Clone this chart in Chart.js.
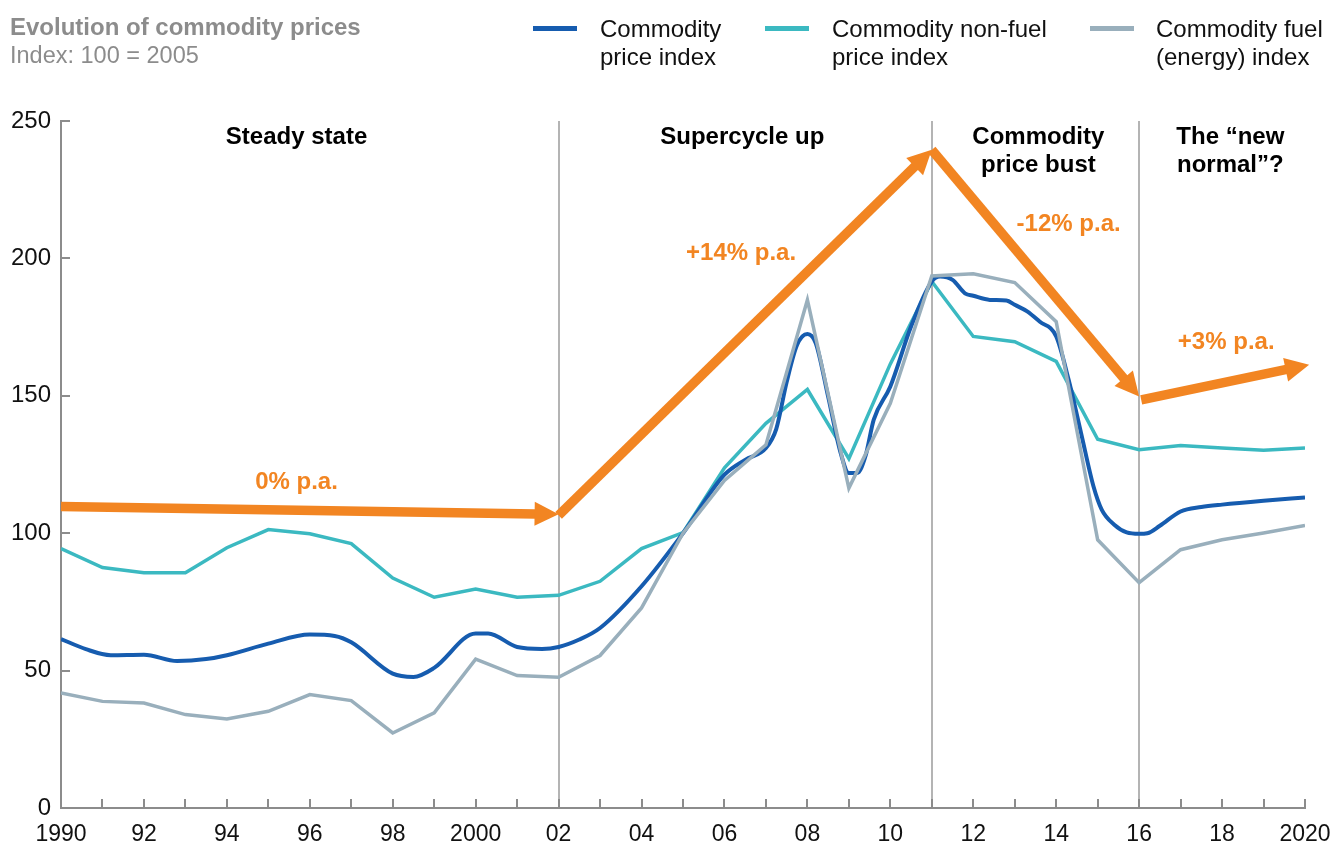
<!DOCTYPE html>
<html>
<head>
<meta charset="utf-8">
<script src="https://cdn.jsdelivr.net/npm/chart.js@4"></script>
<style>
  body { margin: 0; background: #fff; font-family: "Liberation Sans", Arial, sans-serif; }
  #wrap { position: relative; width: 1336px; height: 848px; }
  .title { position: absolute; left: 10px; top: 13px; font-size: 24px; font-weight: bold; color: #8c8c8c; }
  .sub { position: absolute; left: 10px; top: 42px; font-size: 23.5px; color: #8c8c8c; }
  .leg { position: absolute; top: 15px; font-size: 24px; line-height: 28px; color: #111; }
  .sw { position: absolute; top: 26px; width: 44px; height: 5px; }
</style>
</head>
<body>
<div id="wrap">
  <canvas id="chart"></canvas>
  <div class="title">Evolution of commodity prices</div>
  <div class="sub">Index: 100 = 2005</div>
  <div class="sw" style="left:533px;background:#165caf"></div>
  <div class="leg" style="left:600px">Commodity<br>price index</div>
  <div class="sw" style="left:765px;background:#3bb9c1"></div>
  <div class="leg" style="left:832px">Commodity non-fuel<br>price index</div>
  <div class="sw" style="left:1090px;background:#99afbc"></div>
  <div class="leg" style="left:1156px">Commodity fuel<br>(energy) index</div>
</div>
<script>
// annual series
const years = [1990, 1991, 1992, 1993, 1994, 1995, 1996, 1997, 1998, 1999, 2000,
  2001, 2002, 2003, 2004, 2005, 2006, 2007, 2008, 2009, 2010,
  2011, 2012, 2013, 2014, 2015, 2016, 2017, 2018, 2019, 2020];
const nonFuelIndex = [94.4, 87.5, 85.6, 85.6, 94.7, 101.3, 99.8, 96.2, 83.7, 76.7, 79.7,
  76.7, 77.4, 82.5, 94.4, 100.2, 123.8, 140, 152.3, 127.1, 161.6,
  191.6, 171.6, 169.7, 162.5, 134.2, 130.4, 131.9, 131, 130.2, 131];
const fuelIndex = [41.9, 38.8, 38.2, 34, 32.4, 35.2, 41.3, 39.1, 27.3, 34.6, 54.2,
  48.2, 47.6, 55.5, 72.8, 100, 119.2, 132.2, 184.9, 116.4, 147.3,
  193.6, 194.4, 191.2, 177, 97.6, 82, 94, 97.6, 100.1, 102.8];

// headline index has finer points
const commodityYears = [1990, 1990.6, 1991.2, 1992, 1992.8, 1993.5, 1994, 1995, 1996, 1996.6,
  1997, 1998, 1998.5, 1999, 2000, 2000.3, 2001, 2001.6, 2002, 2002.5, 2003, 2004, 2005,
  2006, 2006.5, 2007, 2007.25, 2007.5, 2007.75, 2008, 2008.2, 2008.5, 2008.8, 2009, 2009.2,
  2009.4, 2009.6, 2010, 2010.5, 2011, 2011.2, 2011.5, 2011.8, 2012, 2012.4, 2012.8, 2013,
  2013.3, 2013.6, 2014, 2014.3, 2014.6, 2014.9, 2015.1, 2015.4, 2015.7, 2016, 2016.2,
  2016.5, 2017, 2017.5, 2018, 2019, 2020];
const commodityIndex = [61.5, 57.8, 55.6, 55.8, 53.5, 54.2, 55.6, 59.8, 63.1, 62.6,
  60.3, 48.9, 47.7, 51, 63.5, 63.5, 58.6, 57.9, 58.6, 61.3, 65.5, 80.7, 100,
  121.3, 126.7, 131, 138, 155, 168.5, 172.5, 169.2, 149.7, 129.3, 121.9, 121.9,
  128, 141.3, 153.4, 175.2, 191.6, 193.4, 192.2, 187.3, 186.4, 184.9, 184.7, 183.1,
  180.7, 177, 171.6, 155.8, 136.4, 117, 108.5, 103.1, 100.3, 99.8, 100,
  102.7, 107.9, 109.5, 110.4, 111.8, 113];

const xTickLabels = {1990: '1990', 1992: '92', 1994: '94', 1996: '96', 1998: '98', 2000: '2000',
  2002: '02', 2004: '04', 2006: '06', 2008: '08', 2010: '10', 2012: '12', 2014: '14',
  2016: '16', 2018: '18', 2020: '2020'};
const yTicks = [0, 50, 100, 150, 200, 250];

// phases and annotations (data units)
const dividers = [2002, 2011, 2016];
const phaseLabels = [
  { x: 1995.68, y: 244.5, lines: ['Steady state'] },
  { x: 2006.43, y: 244.5, lines: ['Supercycle up'] },
  { x: 2013.57, y: 244.5, lines: ['Commodity', 'price bust'] },
  { x: 2018.2, y: 244.5, lines: ['The \u201cnew', 'normal\u201d?'] }
];
const trendArrows = [
  { from: [1990, 109.7], to: [2002, 106.9] },
  { from: [2002, 106.5], to: [2011, 239.5] },
  { from: [2011, 239.5], to: [2016, 149.7] },
  { from: [2016.05, 148.5], to: [2020.1, 161.3] }
];
const trendLabels = [
  { x: 1995.68, y: 118.4, text: '0% p.a.' },
  { x: 2006.4, y: 202, text: '+14% p.a.' },
  { x: 2014.3, y: 212.2, text: '-12% p.a.' },
  { x: 2018.1, y: 169.3, text: '+3% p.a.' }
];

const ORANGE = '#f28522';
const AXIS = '#8c8c8c';
const FONT = '"Liberation Sans", Arial, sans-serif';

const annotations = {
  id: 'annotations',
  beforeDatasetsDraw(chart) {
    const { ctx, chartArea: a, scales: { x } } = chart;
    ctx.save();
    ctx.strokeStyle = '#b4b4b4';
    ctx.lineWidth = 2;
    dividers.forEach(d => {
      const px = Math.round(x.getPixelForValue(d));
      ctx.beginPath();
      ctx.moveTo(px, a.top);
      ctx.lineTo(px, a.bottom);
      ctx.stroke();
    });
    ctx.restore();
  },
  afterDatasetsDraw(chart) {
    const { ctx, scales: { x, y } } = chart;
    ctx.save();
    // arrows
    ctx.fillStyle = ORANGE;
    ctx.strokeStyle = ORANGE;
    ctx.lineWidth = 9.5;
    ctx.lineCap = 'butt';
    trendArrows.forEach(ar => {
      const x0 = x.getPixelForValue(ar.from[0]), y0 = y.getPixelForValue(ar.from[1]);
      const x1 = x.getPixelForValue(ar.to[0]), y1 = y.getPixelForValue(ar.to[1]);
      const ang = Math.atan2(y1 - y0, x1 - x0);
      const head = 24, half = 12;
      const bx = x1 - head * Math.cos(ang), by = y1 - head * Math.sin(ang);
      ctx.beginPath();
      ctx.moveTo(x0, y0);
      ctx.lineTo(bx + Math.cos(ang), by + Math.sin(ang));
      ctx.stroke();
      ctx.beginPath();
      ctx.moveTo(x1, y1);
      ctx.lineTo(bx + half * Math.sin(ang), by - half * Math.cos(ang));
      ctx.lineTo(bx - half * Math.sin(ang), by + half * Math.cos(ang));
      ctx.closePath();
      ctx.fill();
    });
    // growth labels
    ctx.font = 'bold 24px ' + FONT;
    ctx.textAlign = 'center';
    ctx.textBaseline = 'middle';
    trendLabels.forEach(l => {
      ctx.fillText(l.text, x.getPixelForValue(l.x), y.getPixelForValue(l.y));
    });
    // phase headings
    ctx.fillStyle = '#000';
    phaseLabels.forEach(p => {
      p.lines.forEach((t, i) => {
        ctx.fillText(t, x.getPixelForValue(p.x), y.getPixelForValue(p.y) + 1 + i * 28);
      });
    });
    ctx.restore();
  },
  afterDraw(chart) {
    const { ctx, chartArea: a, scales: { x, y } } = chart;
    ctx.save();
    ctx.strokeStyle = AXIS;
    ctx.lineWidth = 2;
    ctx.beginPath();
    yTicks.forEach(v => {
      const py = Math.round(y.getPixelForValue(v));
      ctx.moveTo(a.left, py);
      ctx.lineTo(a.left + 9, py);
    });
    for (let yr = years[0]; yr <= years[years.length - 1]; yr++) {
      const px = Math.round(x.getPixelForValue(yr));
      ctx.moveTo(px, a.bottom);
      ctx.lineTo(px, a.bottom - 9);
    }
    ctx.stroke();
    ctx.restore();
  }
};

const ctx = document.getElementById('chart').getContext('2d');
new Chart(ctx, {
  type: 'line',
  data: {
    datasets: [{
      label: 'Commodity fuel (energy) index',
      data: years.map((yr, i) => ({ x: yr, y: fuelIndex[i] })),
      borderColor: '#99afbc',
      borderWidth: 3.5,
      tension: 0,
      order: 0
    }, {
      label: 'Commodity price index',
      data: commodityYears.map((yr, i) => ({ x: yr, y: commodityIndex[i] })),
      borderColor: '#165caf',
      borderWidth: 4,
      cubicInterpolationMode: 'monotone',
      order: 1
    }, {
      label: 'Commodity non-fuel price index',
      data: years.map((yr, i) => ({ x: yr, y: nonFuelIndex[i] })),
      borderColor: '#3bb9c1',
      borderWidth: 3.5,
      tension: 0,
      order: 2
    }]
  },
  options: {
    responsive: true,
    maintainAspectRatio: false,
    animation: false,
    elements: { point: { radius: 0 } },
    layout: { padding: { top: 121, right: 31, left: 0, bottom: 0 } },
    plugins: {
      legend: { display: false },
      tooltip: { enabled: false }
    },
    scales: {
      x: {
        type: 'linear',
        min: 1990,
        max: 2020,
        afterFit: s => { s.height = 40; s.paddingLeft = 0; s.paddingRight = 0; },
        afterBuildTicks: s => { s.ticks = years.map(v => ({ value: v })); },
        grid: { display: false, drawTicks: false },
        border: { color: AXIS, width: 2 },
        ticks: {
          autoSkip: false,
          maxRotation: 0,
          padding: 13,
          color: '#111',
          font: { family: FONT, size: 23 },
          callback: v => xTickLabels[v] || ''
        }
      },
      y: {
        min: 0,
        max: 250,
        afterFit: s => { s.width = 61; s.paddingTop = 0; s.paddingBottom = 0; },
        afterBuildTicks: s => { s.ticks = yTicks.map(v => ({ value: v })); },
        grid: { display: false, drawTicks: false },
        border: { color: AXIS, width: 2 },
        ticks: {
          padding: 10,
          color: '#111',
          font: { family: FONT, size: 24 }
        }
      }
    }
  },
  plugins: [annotations]
});
</script>
</body>
</html>
